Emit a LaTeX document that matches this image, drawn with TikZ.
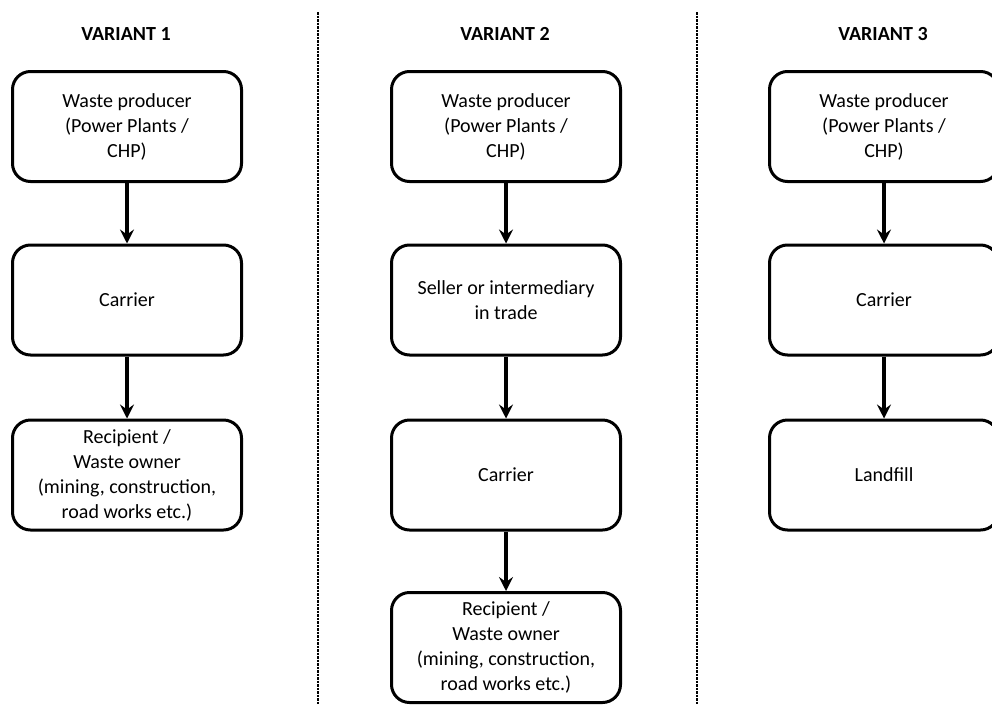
\documentclass[tikz,border=0pt]{standalone}
\usepackage{fontspec}
\setmainfont{Carlito}
\usetikzlibrary{arrows.meta}
\tikzset{
  flowbox/.style={draw=black, line width=3pt, rounded corners=18pt, fill=white,
    minimum width=229pt, minimum height=110pt, inner sep=0pt, align=center,
    font=\fontsize{20}{25}\selectfont},
  header/.style={font=\fontsize{20}{23}\selectfont\bfseries, inner sep=0pt},
  flowarrow/.style={line width=3.5pt, -{Stealth[length=14pt,width=14pt,inset=5pt]}},
  divider/.style={line width=1.5pt, dash pattern=on 2.5pt off 1pt}
}
\begin{document}
\begin{tikzpicture}[x=1pt,y=-1pt]
\useasboundingbox (0,0) rectangle (992,704);
\clip (0,0) rectangle (992,704);
% dividers
\coordinate (d1t) at (318,12);
\coordinate (d1b) at (318,704);
\coordinate (d2t) at (697,12);
\coordinate (d2b) at (697,704);
\draw[divider] (d1t) -- (d1b);
\draw[divider] (d2t) -- (d2b);
% headers
\node[header] (h1) at (126,34) {VARIANT 1};
\node[header] (h2) at (505,34) {VARIANT 2};
\node[header] (h3) at (883,34) {VARIANT 3};
% variant 1
\node[flowbox] (a1) at (127,126.5) {Waste producer\\(Power Plants /\\CHP)};
\node[flowbox] (a2) at (127,300) {Carrier};
\node[flowbox] (a3) at (127,475) {Recipient /\\Waste owner\\(mining, construction,\\road works etc.)};
% variant 2
\node[flowbox] (b1) at (506,126.5) {Waste producer\\(Power Plants /\\CHP)};
\node[flowbox] (b2) at (506,300) {Seller or intermediary\\in trade};
\node[flowbox] (b3) at (506,475) {Carrier};
\node[flowbox] (b4) at (506,647.5) {Recipient /\\Waste owner\\(mining, construction,\\road works etc.)};
% variant 3
\node[flowbox] (c1) at (884,126.5) {Waste producer\\(Power Plants /\\CHP)};
\node[flowbox] (c2) at (884,300) {Carrier};
\node[flowbox] (c3) at (884,475) {Landfill};
% arrows
\draw[flowarrow] (a1.south) -- (a2.north);
\draw[flowarrow] (a2.south) -- (a3.north);
\draw[flowarrow] (b1.south) -- (b2.north);
\draw[flowarrow] (b2.south) -- (b3.north);
\draw[flowarrow] (b3.south) -- (b4.north);
\draw[flowarrow] (c1.south) -- (c2.north);
\draw[flowarrow] (c2.south) -- (c3.north);
\end{tikzpicture}
\end{document}
